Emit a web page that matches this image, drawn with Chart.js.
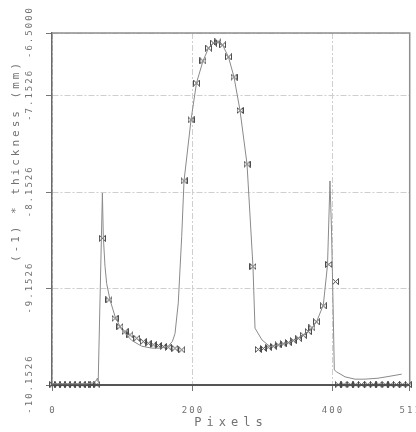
<!DOCTYPE html>
<html>
<head>
<meta charset="utf-8">
<script src="https://cdn.jsdelivr.net/npm/chart.js@4"></script>
<style>
  html, body { margin: 0; padding: 0; background: #fff; overflow: hidden; }
  #wrap { width: 424px; height: 432px; }
</style>
</head>
<body>
<div id="wrap"><canvas id="chart" width="424" height="432"></canvas></div>
<script>
const xTicks = [0, 200, 400, 511]
const yTicks = [-10.1526, -9.1526, -8.1526, -7.1526, -6.5]
const yTickLabels = ['-10.1526', '-9.1526', '-8.1526', '-7.1526', '-6.5000']
const xTitle = 'Pixels'
const yTitle = '(-1) * thickness (mm)'

// measured profile (thin line)
const measuredX = [0, 10, 20, 30, 40, 50, 58, 63, 65, 66, 72, 73.3, 75.7, 78.1, 82.9, 90, 99.6, 113.9, 128.1, 142.4, 155, 166.1, 172, 175.7, 180.4, 185.3,
  188.6, 198.6, 206.4, 215.7, 223.6, 230.7, 237.1, 243.6, 252.1, 260, 268.6, 278.6, 287.1, 290, 300, 311.4, 323.3, 337.6, 351.9, 366.1, 371.4, 377.9,
  387.6, 393.6, 395.7, 397.1, 399.3, 401.4, 403.3, 406.7, 418.6, 432.9, 447.1, 465.7, 480, 499.6]
const measuredY = [-10.14, -10.14, -10.14, -10.14, -10.14, -10.14, -10.13, -10.11, -10.08, -10.12, -8.16, -8.61, -8.92, -9.10, -9.27, -9.44, -9.58, -9.69, -9.75, -9.77, -9.77, -9.75, -9.70, -9.62, -9.30, -8.61,
  -8.035, -7.402, -7.019, -6.790, -6.656, -6.604, -6.593, -6.624, -6.749, -6.957, -7.304, -7.860, -8.924, -9.563, -9.685, -9.754, -9.737, -9.713, -9.667, -9.599, -9.560, -9.498,
  -9.322, -8.907, -8.388, -8.035, -8.544, -9.270, -9.996, -10.017, -10.068, -10.092, -10.092, -10.082, -10.065, -10.040]

// fitted points (bowtie markers)
const fitX = [1, 8, 15, 22, 29, 36, 43, 50, 57, 64,
  71.9, 81.4, 90, 97.1, 104.3, 111.4, 121, 130.4, 137.6, 144.7, 151.9, 159, 166.1, 175.7, 185.3,
  188.6, 198.6, 206.4, 215.7, 223.6, 230.7, 237.1, 243.6, 252.1, 260, 268.6, 278.6,
  287.1, 294.7, 301.9, 309, 316.1, 323.3, 330.4, 337.6, 344.7, 351.9, 359, 366.1, 371.4, 377.9, 387.6, 395.4, 405,
  409, 417, 426, 434, 442, 451, 459, 467, 476, 484, 492, 501, 509]
const fitY = [-10.15, -10.15, -10.15, -10.15, -10.15, -10.15, -10.15, -10.15, -10.15, -10.15,
  -8.630, -9.270, -9.460, -9.547, -9.599, -9.633, -9.667, -9.702, -9.719, -9.736, -9.743, -9.754, -9.760, -9.771, -9.788,
  -8.035, -7.402, -7.019, -6.790, -6.656, -6.604, -6.593, -6.624, -6.749, -6.957, -7.304, -7.860,
  -8.924, -9.783, -9.773, -9.760, -9.750, -9.737, -9.726, -9.713, -9.692, -9.667, -9.636, -9.599, -9.560, -9.498, -9.332, -8.901, -9.080,
  -10.15, -10.15, -10.15, -10.15, -10.15, -10.15, -10.15, -10.15, -10.15, -10.15, -10.15, -10.15, -10.15]

const bowtie = document.createElement('canvas')
bowtie.width = 7
bowtie.height = 7
const b = bowtie.getContext('2d')
b.strokeStyle = '#4a4a4a'
b.lineWidth = 1
b.beginPath()
b.moveTo(0.5, 0.5)
b.lineTo(6.5, 6.5)
b.lineTo(6.5, 0.5)
b.lineTo(0.5, 6.5)
b.closePath()
b.stroke()

const textFont = '"DejaVu Sans Mono", "Liberation Mono", monospace'

const frameAndText = {
  id: 'frameAndText',
  beforeDatasetsDraw(chart) {
    const {ctx, chartArea: a} = chart
    ctx.save()
    ctx.strokeStyle = '#8f8f8f'
    ctx.lineWidth = 1.5
    ctx.beginPath()
    ctx.moveTo(a.left, a.top)
    ctx.lineTo(a.right, a.top)
    ctx.lineTo(a.right, a.bottom)
    ctx.stroke()
    ctx.restore()
  },
  afterDraw(chart) {
    const {ctx, scales: {x, y}} = chart
    ctx.save()
    ctx.fillStyle = '#727272'
    ctx.textAlign = 'center'
    ctx.textBaseline = 'middle'
    ctx.font = '9px ' + textFont
    ctx.letterSpacing = '2px'
    xTicks.forEach(v => ctx.fillText(String(v), x.getPixelForValue(v) + 1, 411))
    yTicks.forEach((v, i) => {
      ctx.save()
      ctx.translate(30, y.getPixelForValue(v))
      ctx.rotate(-Math.PI / 2)
      ctx.fillText(yTickLabels[i], 1, 0)
      ctx.restore()
    })
    ctx.font = '12px ' + textFont
    ctx.letterSpacing = '5px'
    ctx.fillText(xTitle, 231, 423)
    ctx.font = '11px ' + textFont
    ctx.letterSpacing = '3px'
    ctx.translate(16, 161)
    ctx.rotate(-Math.PI / 2)
    ctx.fillText(yTitle, 0, 0)
    ctx.restore()
  }
}

const gridOpts = {
  color: '#cfcfcf',
  lineWidth: 1,
  drawTicks: true,
  tickLength: 6,
  tickColor: '#777',
  tickBorderDash: []
}

new Chart(document.getElementById('chart'), {
  type: 'scatter',
  data: {
    datasets: [
      {
        label: 'measured',
        data: measuredX.map((v, i) => ({x: v, y: measuredY[i]})),
        showLine: true,
        borderColor: '#8a8a8a',
        borderWidth: 1,
        pointRadius: 0,
        tension: 0,
        clip: false
      },
      {
        label: 'fit',
        data: fitX.map((v, i) => ({x: v, y: fitY[i]})),
        showLine: false,
        pointStyle: bowtie,
        pointRadius: 4,
        clip: false
      }
    ]
  },
  options: {
    responsive: false,
    animation: false,
    layout: {padding: {top: 33, right: 14.3, left: 0, bottom: 0}},
    plugins: {legend: {display: false}, tooltip: {enabled: false}},
    scales: {
      x: {
        type: 'linear',
        min: 0,
        max: 511,
        afterBuildTicks: s => { s.ticks = xTicks.map(v => ({value: v})) },
        afterFit: s => { s.height = 47 },
        ticks: {display: false},
        grid: gridOpts,
        border: {display: true, color: '#555', width: 2, dash: [6, 2, 2, 2]}
      },
      y: {
        min: -10.1526,
        max: -6.5,
        afterBuildTicks: s => { s.ticks = yTicks.map(v => ({value: v})) },
        afterFit: s => { s.width = 52 },
        ticks: {display: false},
        grid: gridOpts,
        border: {display: true, color: '#6a6a6a', width: 1.5, dash: [6, 2, 2, 2]}
      }
    }
  },
  plugins: [frameAndText]
})
</script>
</body>
</html>
